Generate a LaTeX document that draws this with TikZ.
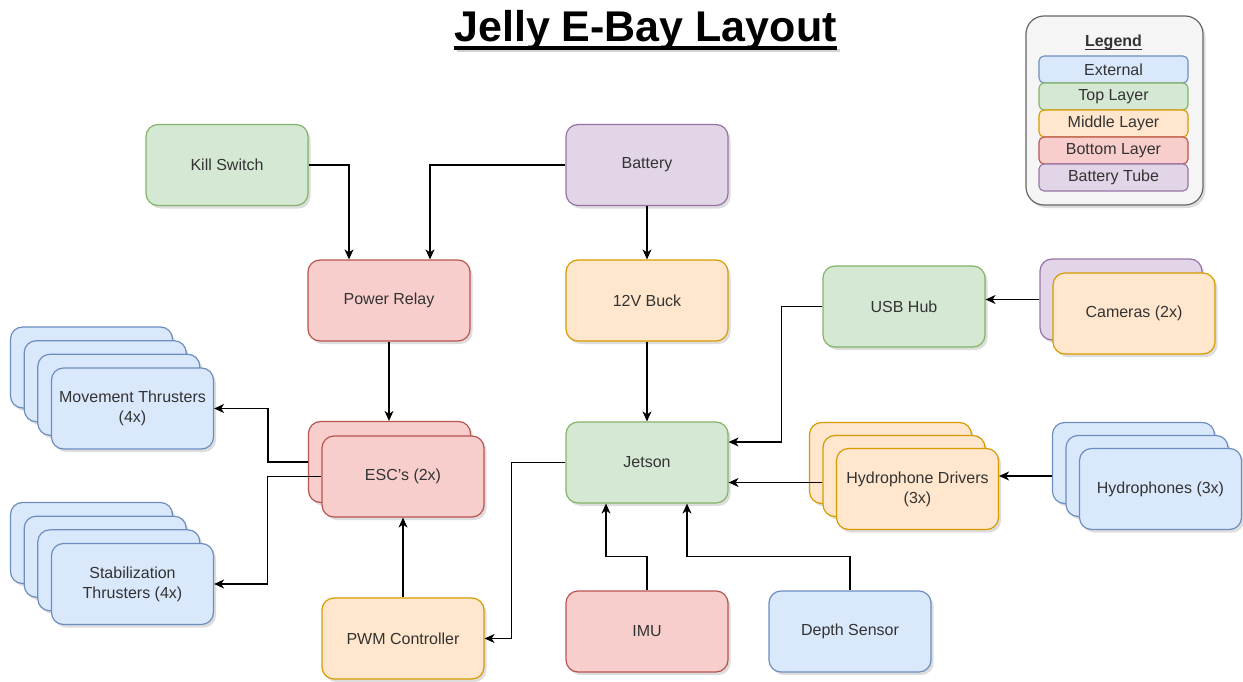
\documentclass[tikz,border=0pt]{standalone}
\usepackage{fontspec}
\setmainfont{Liberation Sans}
\usetikzlibrary{arrows.meta,shadows}

\definecolor{blueF}{HTML}{DAE8FC}\definecolor{blueD}{HTML}{6C8EBF}
\definecolor{greenF}{HTML}{D5E8D4}\definecolor{greenD}{HTML}{82B366}
\definecolor{orangeF}{HTML}{FFE6CC}\definecolor{orangeD}{HTML}{D79B00}
\definecolor{redF}{HTML}{F8CECC}\definecolor{redD}{HTML}{B85450}
\definecolor{purpleF}{HTML}{E1D5E7}\definecolor{purpleD}{HTML}{9673A6}
\definecolor{legF}{HTML}{F5F5F5}\definecolor{legD}{HTML}{666666}
\definecolor{txt}{HTML}{333333}

\tikzset{
  shade3/.style={drop shadow={shadow xshift=2.5pt, shadow yshift=-3pt, opacity=0.22, fill=black!60}},
  box/.style={rounded corners=12pt, minimum width=162pt, minimum height=81pt,
    line width=1.2pt, align=center, text=txt, inner sep=0pt,
    font=\fontsize{16}{20}\selectfont, shade3},
  ext/.style={box, fill=blueF, draw=blueD},
  toplay/.style={box, fill=greenF, draw=greenD},
  midlay/.style={box, fill=orangeF, draw=orangeD},
  botlay/.style={box, fill=redF, draw=redD},
  batlay/.style={box, fill=purpleF, draw=purpleD},
  lrow/.style={rounded corners=5pt, minimum width=149pt, minimum height=27pt,
    line width=1.1pt, inner sep=0pt, text=txt, font=\fontsize{16}{19}\selectfont},
  arr/.style={line width=1.3pt, draw=black, -{Stealth[length=10pt, width=9pt, inset=3pt]}},
}

\begin{document}
\begin{tikzpicture}[x=1pt, y=-1pt]
\useasboundingbox (0,0) rectangle (1243,682);

% title with underline and its soft shadow
\node[anchor=base, inner sep=0pt, font=\fontsize{43}{50}\selectfont\bfseries] (title) at (645.5,42) {Jelly E-Bay Layout};
\fill[black!35, opacity=0.5] ([xshift=3pt,yshift=-7pt]title.base west) rectangle ([xshift=3pt,yshift=-10.5pt]title.base east);
\fill[black] ([yshift=-4.5pt]title.base west) rectangle ([yshift=-8pt]title.base east);

% legend
\node[draw=legD, fill=legF, rounded corners=18pt, minimum width=177pt, minimum height=189pt,
  line width=1.2pt, shade3] (legend) at (1114.5,110.5) {};
\node[anchor=base, inner sep=0pt, text=txt, font=\fontsize{16}{19}\selectfont\bfseries] (lgTitle) at (1113.5,47) {Legend};
\draw[txt, line width=1pt] ([yshift=-2.5pt]lgTitle.base west) -- ([yshift=-2.5pt]lgTitle.base east);
\node[lrow, fill=blueF, draw=blueD] (lgExt) at (1113.5,69.5) {External};
\node[lrow, fill=greenF, draw=greenD] (lgTop) at (1113.5,96.5) {Top Layer};
\node[lrow, fill=orangeF, draw=orangeD] (lgMid) at (1113.5,123.5) {Middle Layer};
\node[lrow, fill=redF, draw=redD] (lgBot) at (1113.5,150.5) {Bottom Layer};
\node[lrow, fill=purpleF, draw=purpleD] (lgBat) at (1113.5,177.5) {Battery Tube};

% power path
\node[toplay] (kill) at (227,165) {Kill Switch};
\node[batlay] (battery) at (647,165) {Battery};
\node[botlay] (relay) at (389,300.5) {Power Relay};
\node[midlay] (buck) at (647,300.5) {12V Buck};

% cameras and USB
\node[toplay] (usb) at (904,306.5) {USB Hub};
\node[batlay] (camB) at (1121,299.5) {};
\node[midlay] (cam) at (1134,313.5) {Cameras (2x)};

% thruster stacks
\node[ext] (mv3) at (91.5,367.5) {};
\node[ext] (mv2) at (105.2,381.2) {};
\node[ext] (mv1) at (118.8,394.8) {};
\node[ext] (mv) at (132.5,408.5) {Movement Thrusters\\(4x)};
\node[ext] (st3) at (91.5,543) {};
\node[ext] (st2) at (105.2,556.7) {};
\node[ext] (st1) at (118.8,570.3) {};
\node[ext] (st) at (132.5,584) {Stabilization\\Thrusters (4x)};

% ESCs
\node[botlay] (escB) at (389.5,462) {};
\node[botlay] (esc) at (403,476.5) {ESC's (2x)};

% computer and sensors
\node[toplay] (jetson) at (647,462.5) {Jetson};
\node[midlay] (hd2) at (890.5,463) {};
\node[midlay] (hd1) at (904,476) {};
\node[midlay] (hd) at (917.5,489) {Hydrophone Drivers\\(3x)};
\node[ext] (hp2) at (1133.5,463) {};
\node[ext] (hp1) at (1147,476) {};
\node[ext] (hp) at (1160.5,489) {Hydrophones (3x)};
\node[midlay] (pwm) at (403,638.5) {PWM Controller};
\node[botlay] (imu) at (647,631.5) {IMU};
\node[ext] (depth) at (850,631.5) {Depth Sensor};

% connectors
\draw[arr] (kill.east) -| ([xshift=-40pt]relay.north);
\draw[arr] (battery.west) -| ([xshift=41pt]relay.north);
\draw[arr] (battery.south) -- (buck.north);
\draw[arr] (relay.south) -- (relay.south |- escB.north);
\draw[arr] (buck.south) -- (jetson.north);
\coordinate (jinU) at ([yshift=20.5pt]jetson.east);
\coordinate (jinL) at ([yshift=-20pt]jetson.east);
\draw[arr] (usb.west) -- ++(-41,0) |- (jinU);
\draw[arr] (camB.west) -- (usb.east |- camB.west);
\draw[arr] (hd1.west |- jinL) -- (jinL);
\draw[arr] (hp2.west |- hp1.center) -- (hd.east |- hp1.center);
\draw[arr] (escB.west) -- ++(-40,0) |- (mv.east);
\draw[arr] (esc.west) -- ++(-54,0) |- (st.east);
\draw[arr] (jetson.west) -- ++(-54,0) |- (pwm.east);
\draw[arr] (pwm.north) -- (esc.south);
\draw[arr] (imu.north) -- ++(0,-34) -| ([xshift=-41pt]jetson.south);
\draw[arr] (depth.north) -- ++(0,-34) -| ([xshift=40pt]jetson.south);
\end{tikzpicture}
\end{document}
